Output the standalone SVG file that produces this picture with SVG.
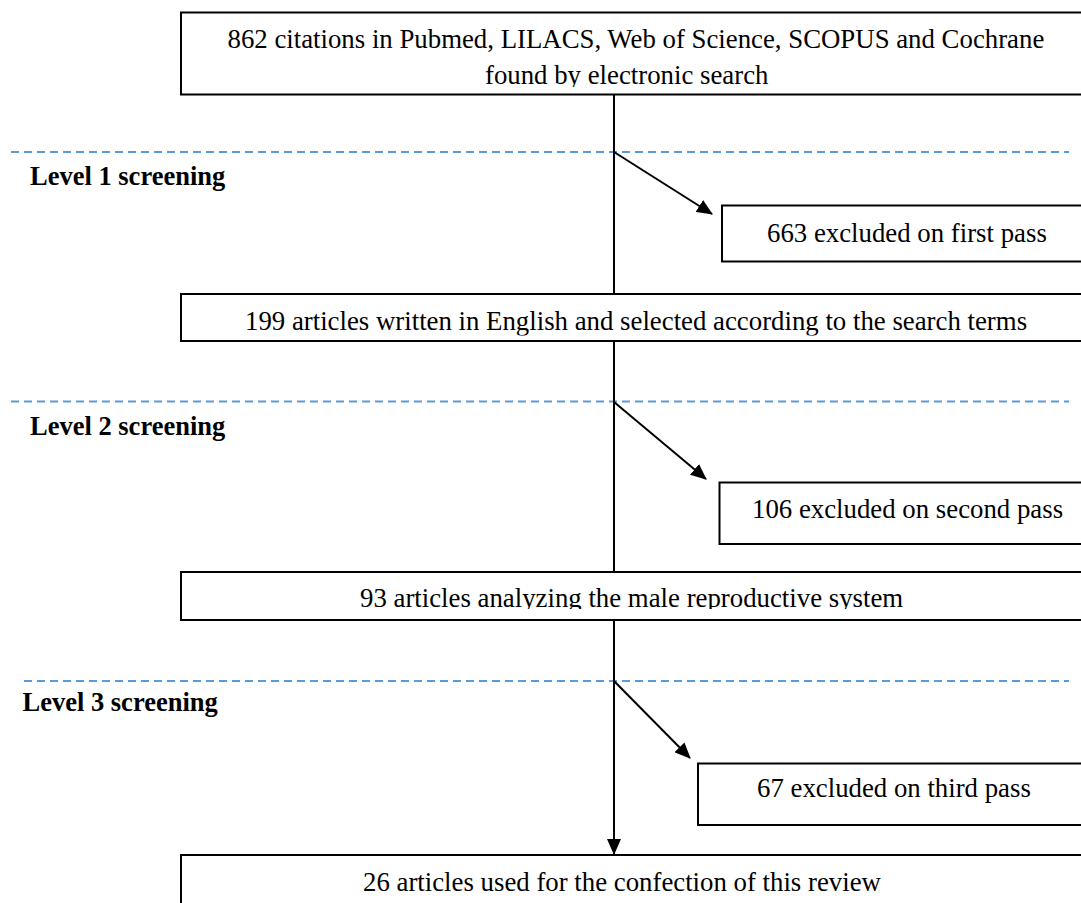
<svg xmlns="http://www.w3.org/2000/svg" width="1081" height="903" viewBox="0 0 1081 903">
<style>
.box{fill:#fff;stroke:#000;stroke-width:2}
.t{font-family:"Liberation Serif","Times New Roman",serif;font-size:26.8px;fill:#000}
.lvl{font-family:"Liberation Serif","Times New Roman",serif;font-size:26.5px;font-weight:bold;fill:#000}
.dash{stroke:#5B9BD5;stroke-width:1.8;stroke-dasharray:8 5;fill:none}
.conn{stroke:#000;stroke-width:2;fill:none}
</style>
<defs>
<marker id="ah" markerWidth="16" markerHeight="14" refX="15" refY="7" orient="auto" markerUnits="userSpaceOnUse">
<path d="M0,0 L16,7 L0,14 Z" fill="#000"/>
</marker>
<clipPath id="c1"><rect x="181" y="12" width="920" height="75"/></clipPath>
<clipPath id="c2"><rect x="181" y="294" width="920" height="41.5"/></clipPath>
<clipPath id="c3"><rect x="181" y="572" width="920" height="37"/></clipPath>
</defs>
<g id="levels">
<line class="dash" x1="11" y1="152" x2="1069" y2="152"/>
<line class="dash" x1="11" y1="401.5" x2="1069" y2="401.5"/>
<line class="dash" x1="24" y1="681" x2="1069" y2="681"/>
<text class="lvl" x="30" y="185">Level 1 screening</text>
<text class="lvl" x="30" y="435">Level 2 screening</text>
<text class="lvl" x="22.5" y="710.5">Level 3 screening</text>
</g>
<g id="connectors">
<line class="conn" x1="614" y1="95" x2="614" y2="854" marker-end="url(#ah)"/>
<line class="conn" x1="614" y1="152" x2="712" y2="214" marker-end="url(#ah)"/>
<line class="conn" x1="614" y1="402" x2="706" y2="479" marker-end="url(#ah)"/>
<line class="conn" x1="614" y1="681" x2="690" y2="758" marker-end="url(#ah)"/>
</g>
<g id="n1">
<rect class="box" x="181" y="12.5" width="920" height="82"/>
<g clip-path="url(#c1)">
<text class="t" x="227.5" y="47.5">862 citations in Pubmed, LILACS, Web of Science, SCOPUS and Cochrane</text>
<text class="t" x="485" y="83.5">found by electronic search</text>
</g>
</g>
<g id="n2">
<rect class="box" x="722" y="205.5" width="400" height="56"/>
<text class="t" x="767" y="241.5">663 excluded on first pass</text>
</g>
<g id="n3">
<rect class="box" x="181" y="294" width="920" height="47"/>
<text class="t" x="245" y="330" clip-path="url(#c2)">199 articles written in English and selected according to the search terms</text>
</g>
<g id="n4">
<rect class="box" x="719.5" y="482.5" width="400" height="61.5"/>
<text class="t" x="752" y="518">106 excluded on second pass</text>
</g>
<g id="n5">
<rect class="box" x="181" y="572" width="920" height="48"/>
<text class="t" x="360" y="606.5" clip-path="url(#c3)">93 articles analyzing the male reproductive system</text>
</g>
<g id="n6">
<rect class="box" x="698" y="763.5" width="400" height="61.5"/>
<text class="t" x="757" y="797">67 excluded on third pass</text>
</g>
<g id="n7">
<rect class="box" x="181" y="855" width="920" height="60"/>
<text class="t" x="363" y="890.5">26 articles used for the confection of this review</text>
</g>
</svg>
